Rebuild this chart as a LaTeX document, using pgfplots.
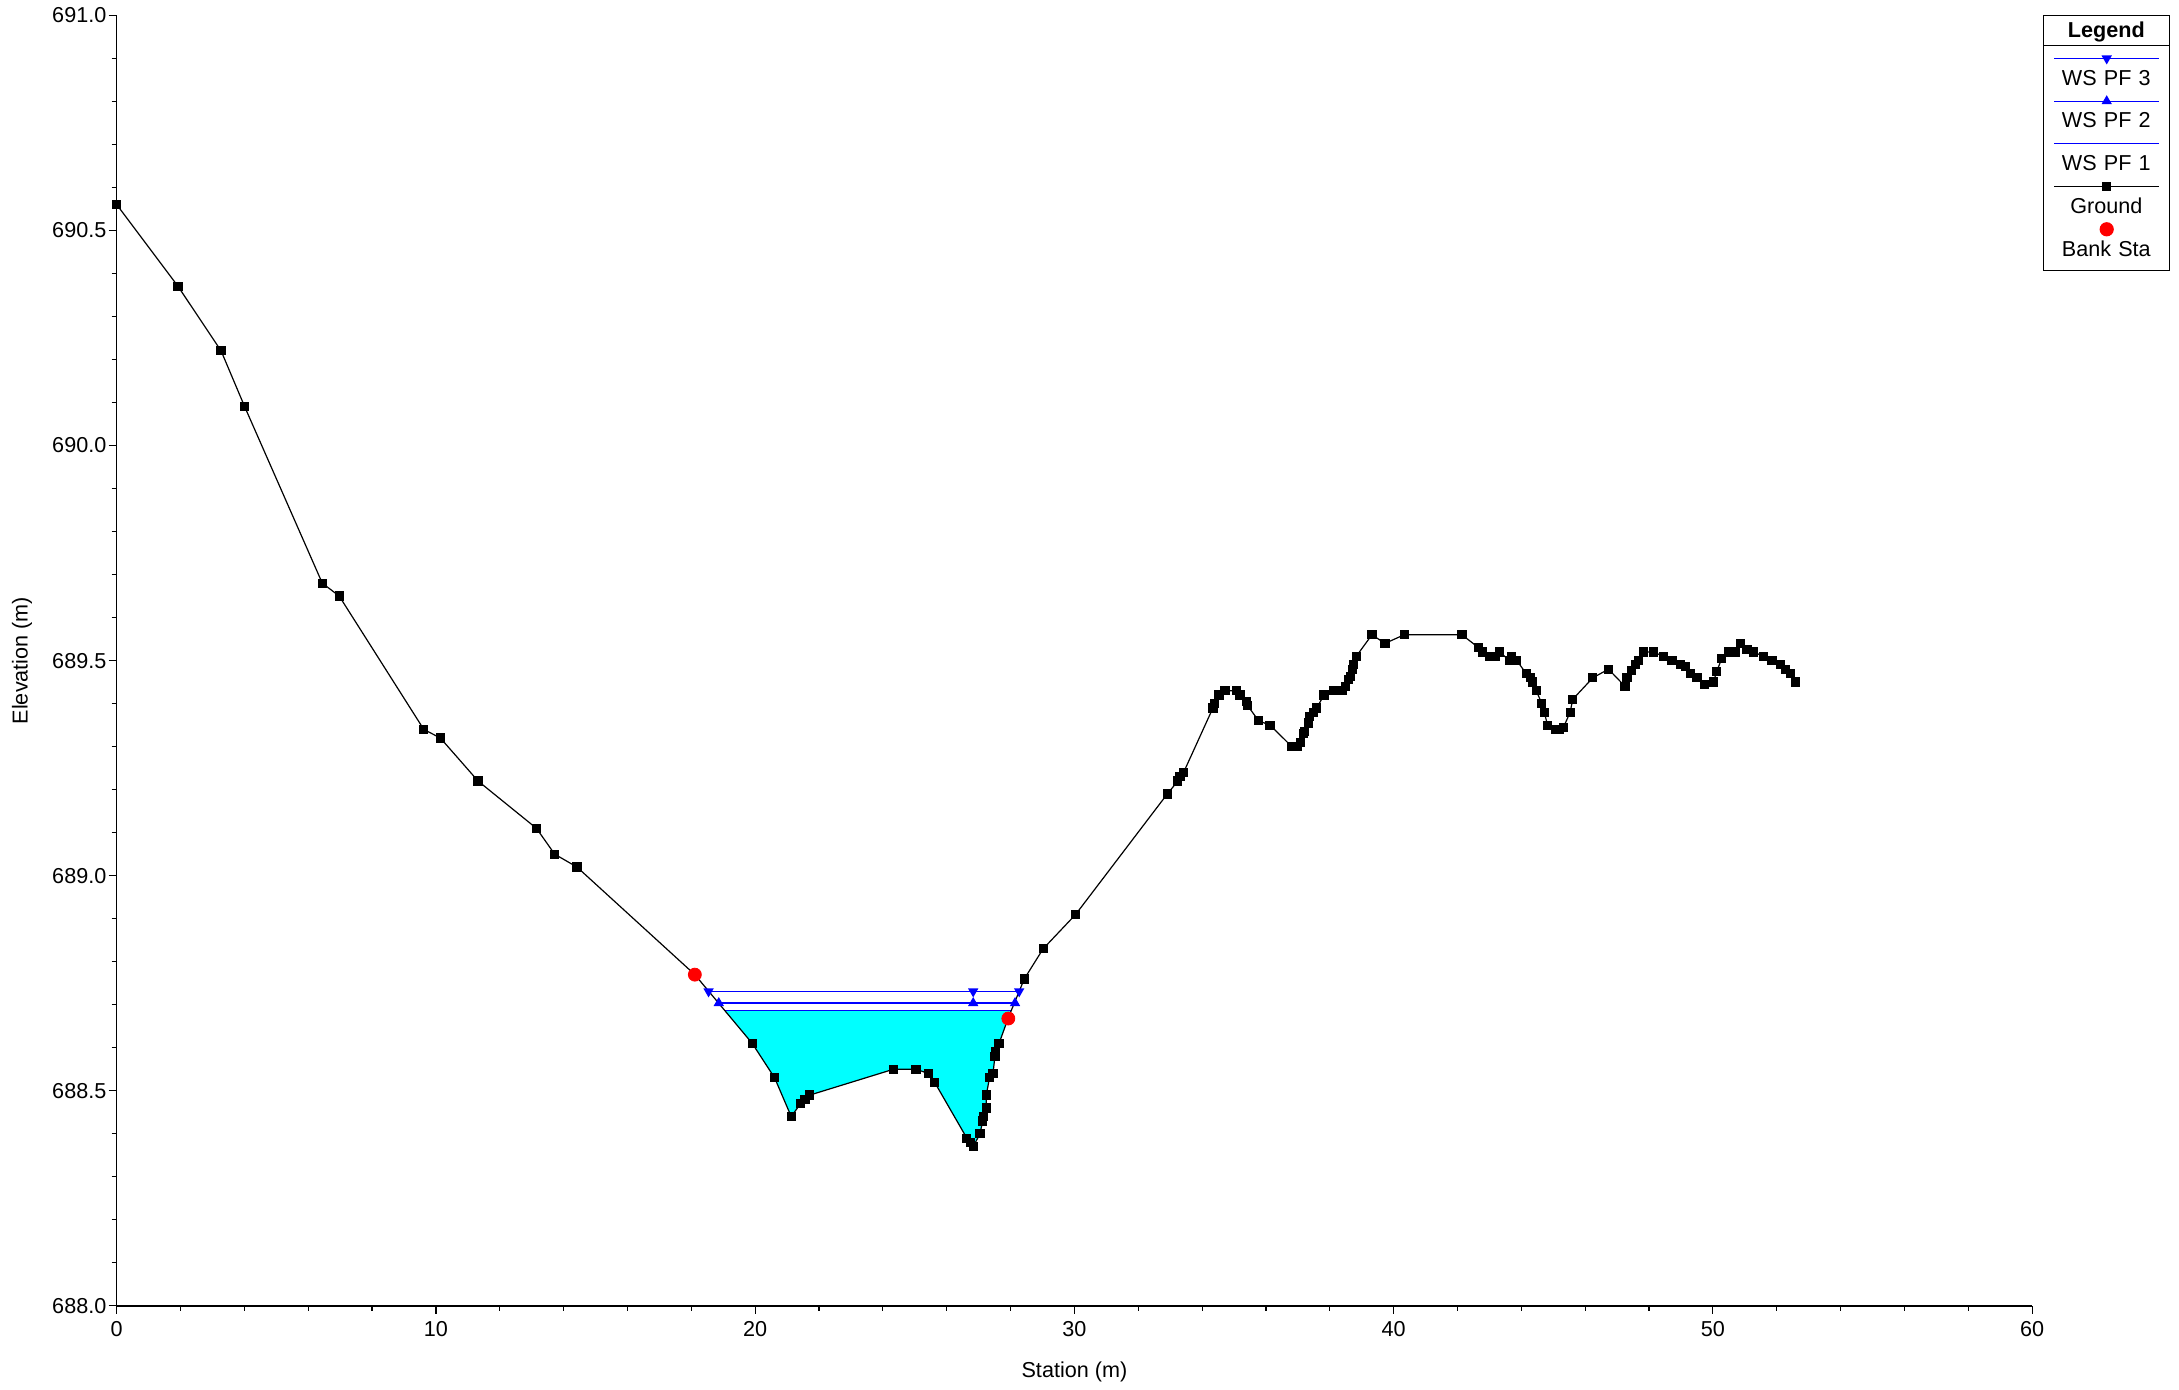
\documentclass[border=0pt]{standalone}
\usepackage{fontspec}
\setmainfont{Liberation Sans}
\usepackage{pgfplots}
\pgfplotsset{compat=1.18}
\definecolor{wsblue}{RGB}{0,0,255}
\definecolor{water}{RGB}{0,255,255}
\definecolor{bank}{RGB}{255,0,0}
\newcommand{\fs}{\fontsize{10.8}{13}\selectfont}
\begin{document}
\begin{tikzpicture}
\useasboundingbox (-58.35pt,-42pt) rectangle (1031.15pt,652.95pt);
\begin{axis}[
  at={(0,0)}, anchor=south west,
  scale only axis, width=957.7pt, height=645.3pt,
  xmin=0, xmax=60, ymin=688, ymax=691,
  axis x line*=bottom, axis y line*=left,
  axis line style={line width=0.8pt, black},
  tick align=outside,
  xtick={0,10,20,30,40,50,60}, minor x tick num=4,
  ytick={688,688.5,689,689.5,690,690.5,691}, minor y tick num=4,
  major tick length=4pt, minor tick length=2.5pt,
  every tick/.style={black, line width=0.6pt},
  font=\fs,
  tick label style={font=\fs},
  yticklabel style={inner sep=1pt},
  /pgf/number format/assume math mode=true,
  yticklabel={\pgfmathprintnumber[fixed,fixed zerofill,precision=1]{\tick}},
  xticklabel={\pgfmathprintnumber[fixed,precision=0]{\tick}},
  scaled ticks=false,
  xlabel={Station (m)}, ylabel={Elevation (m)},
  every axis x label/.style={at={([yshift=-32.8pt]axis description cs:0.5,0)}, anchor=center, font=\fs},
  every axis y label/.style={at={([xshift=-47.3pt]axis description cs:0,0.5)}, anchor=center, rotate=90, font=\fs},
  clip=false,
  legend cell align=left,
  legend style={at={(axis description cs:1.00585,1)}, anchor=north west,
    draw=black, line width=0.6pt, fill=white,
    inner sep=0pt, outer sep=0pt, row sep=0pt, column sep=0pt,
    nodes={inner sep=0pt, outer sep=0pt, text width=63pt, align=center,
      text height=20pt, text depth=1.35pt, font=\fs}},
]
% water PF1 fill
\addplot[fill=water, draw=none, forget plot] coordinates {
(19.05,688.686) (19.91,688.61) (20.61,688.53) (21.13,688.44) (21.42,688.47) (21.56,688.48) (21.71,688.49)
(24.33,688.55) (25.04,688.55) (25.44,688.54) (25.62,688.52) (26.63,688.39) (26.74,688.38) (26.83,688.37)
(27.04,688.40) (27.13,688.43) (27.24,688.46) (27.24,688.49) (27.34,688.53) (27.45,688.54) (27.51,688.58)
(27.53,688.59) (27.64,688.61) (27.93,688.67) (28.02,688.686)
};
% WS PF1
\addplot[wsblue, line width=0.6pt, forget plot] coordinates {(19.05,688.686) (28.02,688.686)};
% WS PF2
\addplot[wsblue, line width=0.6pt, mark=triangle*, mark size=2.4pt, mark options={fill=wsblue, solid}, forget plot]
 coordinates {(18.86,688.704) (26.83,688.704) (28.14,688.704)};
% WS PF3
\addplot[wsblue, line width=0.6pt, mark=triangle*, mark size=2.4pt, mark options={fill=wsblue, rotate=180, solid}, forget plot]
 coordinates {(18.54,688.731) (26.83,688.731) (28.27,688.731)};
% Ground
\addplot[black, line width=0.6pt, mark=square*, mark size=2pt, mark options={fill=black}, forget plot] coordinates {
(0.00,690.56) (1.92,690.37) (3.27,690.22) (4.01,690.09) (6.44,689.68) (6.97,689.65) (9.62,689.34) (10.14,689.32)
(11.32,689.22) (13.15,689.11) (13.72,689.05) (14.42,689.02) (18.11,688.77) (19.91,688.61) (20.61,688.53)
(21.13,688.44) (21.42,688.47) (21.56,688.48) (21.71,688.49) (24.33,688.55) (25.04,688.55) (25.44,688.54)
(25.62,688.52) (26.63,688.39) (26.74,688.38) (26.83,688.37) (27.04,688.40) (27.13,688.43) (27.15,688.44)
(27.24,688.46) (27.24,688.49) (27.34,688.53) (27.45,688.54) (27.51,688.58) (27.53,688.59) (27.64,688.61)
(27.93,688.67) (28.43,688.76) (29.02,688.83) (30.04,688.91) (32.91,689.19) (33.24,689.22) (33.31,689.23)
(33.42,689.24) (34.34,689.39) (34.39,689.40) (34.53,689.42) (34.72,689.43) (35.07,689.43) (35.19,689.42)
(35.40,689.405) (35.43,689.395) (35.77,689.36) (36.13,689.35) (36.81,689.30) (36.97,689.30) (37.07,689.31)
(37.18,689.33) (37.21,689.335) (37.33,689.355) (37.36,689.37) (37.49,689.38) (37.59,689.39) (37.82,689.42)
(38.11,689.43) (38.38,689.43) (38.48,689.44) (38.58,689.456) (38.64,689.463) (38.71,689.48) (38.74,689.49)
(38.83,689.51) (39.32,689.56) (39.73,689.54) (40.33,689.56) (42.14,689.56) (42.66,689.53) (42.79,689.52)
(43.02,689.51) (43.18,689.51) (43.32,689.52) (43.63,689.50) (43.70,689.51) (43.86,689.50) (44.15,689.47)
(44.28,689.46) (44.36,689.45) (44.47,689.43) (44.64,689.40) (44.72,689.38) (44.82,689.35) (45.06,689.34)
(45.20,689.34) (45.32,689.345) (45.53,689.38) (45.61,689.41) (46.24,689.46) (46.73,689.48) (47.25,689.44)
(47.31,689.46) (47.46,689.477) (47.57,689.49) (47.67,689.50) (47.83,689.52) (48.14,689.52) (48.45,689.51)
(48.72,689.50) (48.98,689.49) (49.13,689.487) (49.29,689.47) (49.50,689.46) (49.73,689.445) (50.02,689.45)
(50.12,689.475) (50.28,689.505) (50.49,689.52) (50.70,689.52) (50.86,689.54) (51.07,689.525) (51.27,689.52)
(51.59,689.51) (51.85,689.50) (52.11,689.49) (52.27,689.48) (52.42,689.47) (52.58,689.45)
};
% Bank stations
\addplot[only marks, mark=*, mark size=3.25pt, color=bank, forget plot] coordinates {(18.11,688.77) (27.93,688.668)};

% legend
\addlegendimage{legend image code/.code={\begin{scope}[overlay]\draw[black, line width=0.6pt] (0pt,-7.5pt) -- (63pt,-7.5pt);\end{scope}}}
\addlegendentry[text height=11.05pt, text depth=3.95pt, font=\fs\bfseries]{Legend}
\addlegendimage{legend image code/.code={\begin{scope}[overlay]\draw[wsblue, line width=0.6pt, mark=triangle*, mark size=2.4pt, mark options={fill=wsblue, rotate=180}, mark repeat=2, mark phase=2] plot coordinates {(5.35pt,4.075pt) (31.7pt,4.075pt) (58pt,4.075pt)};\end{scope}}}
\addlegendentry{WS PF 3}
\addlegendimage{legend image code/.code={\begin{scope}[overlay]\draw[wsblue, line width=0.6pt, mark=triangle*, mark size=2.4pt, mark options={fill=wsblue}, mark repeat=2, mark phase=2] plot coordinates {(5.35pt,4.075pt) (31.7pt,4.075pt) (58pt,4.075pt)};\end{scope}}}
\addlegendentry{WS PF 2}
\addlegendimage{legend image code/.code={\begin{scope}[overlay]\draw[wsblue, line width=0.6pt] (5.35pt,4.075pt) -- (58pt,4.075pt);\end{scope}}}
\addlegendentry{WS PF 1}
\addlegendimage{legend image code/.code={\begin{scope}[overlay]\draw[black, line width=0.6pt, mark=square*, mark size=2pt, mark options={fill=black}, mark repeat=2, mark phase=2] plot coordinates {(5.35pt,4.075pt) (31.7pt,4.075pt) (58pt,4.075pt)};\end{scope}}}
\addlegendentry{Ground}
\addlegendimage{legend image code/.code={\begin{scope}[overlay]\draw[bank, only marks, mark=*, mark size=3.25pt] plot coordinates {(31.7pt,7.05pt)};\end{scope}}}
\addlegendentry[text depth=7.3pt]{Bank Sta}
\end{axis}
\end{tikzpicture}
\end{document}
